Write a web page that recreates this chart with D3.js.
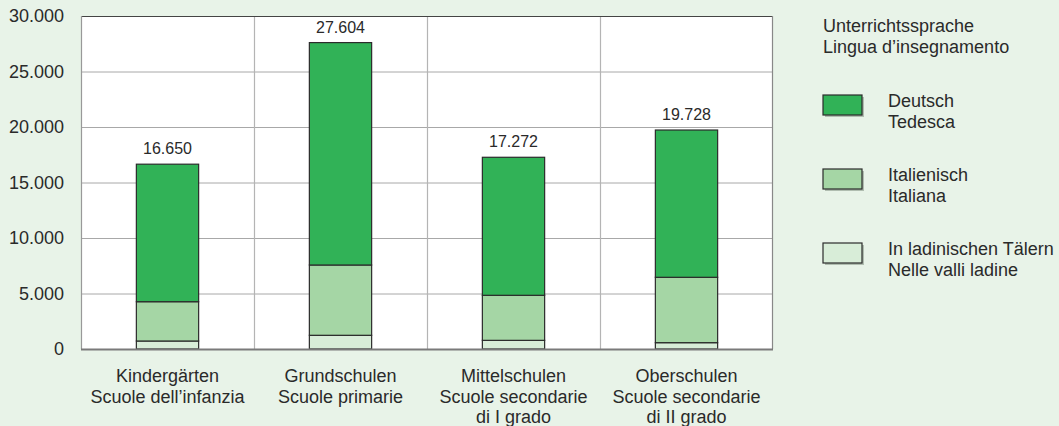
<!DOCTYPE html>
<html>
<head>
<meta charset="utf-8">
<script src="https://cdn.jsdelivr.net/npm/d3@7"></script>
<style>
  html, body { margin: 0; padding: 0; background: #e8f3e8; }
  svg { display: block; font-family: "Liberation Sans", Arial, sans-serif; }
</style>
</head>
<body>
<svg id="chart" width="1059" height="426"></svg>
<script>
// categories (German / Italian, multi-line)
var categories = [
  ["Kindergärten", "Scuole dell\u2019infanzia"],
  ["Grundschulen", "Scuole primarie"],
  ["Mittelschulen", "Scuole secondarie", "di I grado"],
  ["Oberschulen", "Scuole secondarie", "di II grado"]
];
var ladin = [720, 1234, 780, 570];
var italienisch = [3541, 6334, 4058, 5889];
var deutsch = [12389, 20036, 12434, 13269];
var totals = [16650, 27604, 17272, 19728];
var yTicks = [0, 5000, 10000, 15000, 20000, 25000, 30000];

var legendTitle = ["Unterrichtssprache", "Lingua d\u2019insegnamento"];
var legendItems = [
  ["Deutsch", "Tedesca"],
  ["Italienisch", "Italiana"],
  ["In ladinischen Tälern", "Nelle valli ladine"]
];

var colors = { ladin: "#d8edd8", italienisch: "#a5d6a5", deutsch: "#31b257" };

(function () {
  var svg = d3.select("#chart");
  var pLeft = 81, pRight = 773, pTop = 16, pBottom = 349;

  var fmt = d3.formatLocale({ decimal: ",", thousands: ".", grouping: [3], currency: ["", ""] }).format(",d");

  var rows = categories.map(function (c, i) {
    return { i: i, ladin: ladin[i], italienisch: italienisch[i], deutsch: deutsch[i] };
  });
  var keys = ["ladin", "italienisch", "deutsch"];
  var series = d3.stack().keys(keys)(rows);

  var x = d3.scaleBand().domain(d3.range(categories.length)).range([pLeft, pRight]);
  var y = d3.scaleLinear().domain([0, 30000]).range([pBottom, pTop]);
  var barW = x.bandwidth() * 0.36;

  // plot background
  svg.append("rect")
    .attr("x", pLeft).attr("y", pTop)
    .attr("width", pRight - pLeft).attr("height", pBottom - pTop)
    .attr("fill", "#fff");

  // horizontal grid
  svg.append("g").selectAll("line")
    .data(yTicks.slice(1, -1))
    .enter().append("line")
    .attr("x1", pLeft).attr("x2", pRight)
    .attr("y1", function (d) { return y(d) + 0.5; })
    .attr("y2", function (d) { return y(d) + 0.5; })
    .attr("stroke", "#a8a8a8").attr("stroke-width", 1);

  // vertical band separators
  svg.append("g").selectAll("line")
    .data(d3.range(1, categories.length))
    .enter().append("line")
    .attr("x1", function (d) { return x(d) + 0.5; })
    .attr("x2", function (d) { return x(d) + 0.5; })
    .attr("y1", pTop).attr("y2", pBottom)
    .attr("stroke", "#b4b4b4").attr("stroke-width", 1.2);

  // frame
  svg.append("line").attr("x1", pLeft).attr("x2", pRight).attr("y1", pTop + 0.5).attr("y2", pTop + 0.5)
    .attr("stroke", "#444").attr("stroke-width", 1);
  svg.append("line").attr("x1", pLeft + 0.5).attr("x2", pLeft + 0.5).attr("y1", pTop).attr("y2", pBottom)
    .attr("stroke", "#999").attr("stroke-width", 1.2);
  svg.append("line").attr("x1", pRight - 0.5).attr("x2", pRight - 0.5).attr("y1", pTop).attr("y2", pBottom)
    .attr("stroke", "#888").attr("stroke-width", 1.2);

  // bars
  svg.append("g").selectAll("g")
    .data(series)
    .enter().append("g")
    .attr("fill", function (s) { return colors[s.key]; })
    .selectAll("rect")
    .data(function (s) { return s; })
    .enter().append("rect")
    .attr("x", function (d) { return x(d.data.i) + (x.bandwidth() - barW) / 2; })
    .attr("width", barW)
    .attr("y", function (d) { return y(d[1]); })
    .attr("height", function (d) { return y(d[0]) - y(d[1]); })
    .attr("stroke", "#2b2b2b").attr("stroke-width", 1.2);

  // bottom axis line
  svg.append("line").attr("x1", pLeft).attr("x2", pRight).attr("y1", pBottom + 0.5).attr("y2", pBottom + 0.5)
    .attr("stroke", "#7a7a7a").attr("stroke-width", 2);

  // total labels
  svg.append("g").selectAll("text")
    .data(totals)
    .enter().append("text")
    .attr("x", function (d, i) { return x(i) + x.bandwidth() / 2; })
    .attr("y", function (d) { return y(d) - 10; })
    .attr("text-anchor", "middle")
    .attr("font-size", 16).attr("fill", "#2a2a2a")
    .text(function (d) { return fmt(d); });

  // y tick labels
  svg.append("g").selectAll("text")
    .data(yTicks)
    .enter().append("text")
    .attr("x", 64)
    .attr("y", function (d) { return y(d); })
    .attr("dy", "0.35em")
    .attr("text-anchor", "end")
    .attr("font-size", 18).attr("fill", "#2a2a2a")
    .text(function (d) { return fmt(d); });

  // x labels
  var xl = svg.append("g").selectAll("text")
    .data(categories)
    .enter().append("text")
    .attr("text-anchor", "middle")
    .attr("font-size", 18).attr("fill", "#2a2a2a");
  xl.selectAll("tspan")
    .data(function (d, i) { return d.map(function (t) { return { t: t, i: i }; }); })
    .enter().append("tspan")
    .attr("x", function (d) { return x(d.i) + x.bandwidth() / 2; })
    .attr("y", function (d, j) { return 382 + j * 20.7; })
    .text(function (d) { return d.t; });

  // legend
  var lg = svg.append("g").attr("font-size", 18).attr("fill", "#2a2a2a");
  lg.selectAll("text.title")
    .data(legendTitle)
    .enter().append("text").attr("class", "title")
    .attr("x", 823).attr("y", function (d, j) { return 32 + j * 21; })
    .text(function (d) { return d; });

  var legendKeys = ["deutsch", "italienisch", "ladin"];
  var li = lg.selectAll("g.item")
    .data(legendItems)
    .enter().append("g").attr("class", "item")
    .attr("transform", function (d, i) { return "translate(823," + (95 + i * 74) + ")"; });
  li.append("rect")
    .attr("x", 2).attr("y", 2).attr("width", 39).attr("height", 20)
    .attr("fill", "#8a9a8a").attr("opacity", 0.6);
  li.append("rect")
    .attr("width", 39).attr("height", 20)
    .attr("fill", function (d, i) { return colors[legendKeys[i]]; })
    .attr("stroke", "#2b2b2b").attr("stroke-width", 1.2);
  li.selectAll("text")
    .data(function (d) { return d; })
    .enter().append("text")
    .attr("x", 65).attr("y", function (d, j) { return 12 + j * 21; })
    .text(function (d) { return d; });
})();
</script>
</body>
</html>
